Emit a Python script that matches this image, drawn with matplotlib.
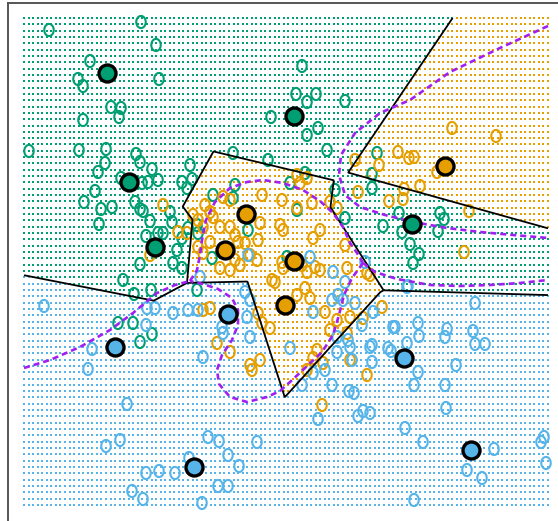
import numpy as np
import matplotlib
matplotlib.use("Agg")
import matplotlib.pyplot as plt
from matplotlib.path import Path

# ---------------- data (feature units) ----------------
green_x = [49,141,156,90,78,83,159,111,121,119,83,
           29,79,106,136,140,105,98,152,190,121,
           142,148,158,182,192,187,95,84,101,112,
           135,140,143,150,99,146,140,123,134,151,
           118,133,152,140,
           302,296,307,316,345,271,318,307,233,327,268,
           377,372,372,335,399,383,402,440,444,438,410,419,413,345,
           170,172,163,182,177,173,182,197,198,212,297,290,305,235,213,233,188,158,197,287,248]
green_y = [30,22,45,61,79,86,79,107,108,117,120,
           151,150,149,154,162,163,172,169,165,178,
           183,182,180,182,179,188,191,202,209,207,
           202,209,211,221,224,236,264,280,294,290,
           323,323,334,342,
           66,94,102,94,101,117,128,135,153,150,160,
           153,174,188,190,213,226,232,213,219,231,244,254,263,218,
           212,222,233,238,250,263,268,225,233,258,210,183,173,185,195,198,228,233,290,257,230]

orange_x = [452,496,398,409,414,355,379,437,420,404,358,403,389,337,469,345,464,367,382,
            297,300,307,262,282,297,163,205,210,193,198,213,223,230,230,260,280,283,320,220,203,178,187,
            312,330,313,235,210,198,203,220,230,238,245,235,240,250,258,257,282,283,302,307,315,320,
            272,275,305,297,310,325,347,370,363,350,347,337,330,317,313,323,307,262,270,258,
            217,230,250,260,203,210,367,350,322,252,150]
orange_y = [128,136,152,158,157,160,165,172,186,189,192,199,201,208,211,245,252,273,307,
            175,183,178,195,200,208,205,205,212,215,220,217,197,200,227,223,225,230,230,227,227,232,233,
            203,202,238,235,242,247,253,268,270,242,243,260,265,255,240,260,262,268,265,272,267,270,
            280,282,288,295,298,312,268,275,318,317,333,320,330,350,358,363,370,323,328,313,
            343,352,365,360,310,308,375,360,405,370,255]

blue_x = [44,92,88,127,147,155,146,106,120,208,219,228,239,189,146,159,175,132,143,202,218,228,
          302,313,325,332,349,354,318,358,363,370,257,
          414,445,446,405,423,494,467,482,544,541,546,414,
          408,475,373,393,418,419,447,445,473,475,485,407,391,372,372,456,418,
          365,333,345,407,
          310,248,200,245,250,173,188,198,223,222,247,250,290,313,332,343,338,355,362,
          337,348,350,352,370,388,395,337,203]
blue_y = [306,349,369,404,308,308,325,446,440,437,441,455,466,458,473,471,473,491,499,503,486,486,
          385,373,370,385,391,393,419,416,411,413,442,
          385,385,408,428,442,449,470,478,437,442,463,500,
          286,303,312,327,323,336,329,337,331,344,344,343,351,345,362,365,372,
          262,272,282,287,
          257,255,277,292,300,313,310,310,333,327,317,337,348,312,300,300,295,303,325,
          337,340,347,360,347,348,327,352,357]

# cluster prototypes (5 per class)
proto_green_x = [107, 294, 129, 155, 412]
proto_green_y = [73, 116, 182, 247, 224]
proto_orange_x = [445, 246, 225, 294, 285]
proto_orange_y = [166, 214, 250, 261, 305]
proto_blue_x = [228, 115, 404, 471, 194]
proto_blue_y = [314, 347, 358, 450, 467]

# Bayes decision boundary (dashed)
bayes_go_right_x = [548,500,450,410,380,355,341,339,345,360,385,413,447,480,513,548]
bayes_go_right_y = [26,48,72,100,113,133,155,175,195,207,215,222,228,232,235,238]
bayes_go_center_x = [190,197,200,202,206,215,230,247,263,283,303,320,333,343,350,357,363]
bayes_go_center_y = [281,270,255,240,220,202,188,182,180,183,190,201,213,227,243,253,263]
bayes_gb_right_x = [363,375,397,430,460,490,520,548]
bayes_gb_right_y = [263,272,279,285,286,285,283,280]
bayes_gb_left_x = [24,50,80,110,133,157,175,190]
bayes_gb_left_y = [368,360,347,330,313,293,285,281]
bayes_ob_x = [363,352,344,339,333,322,305,290,280,267,247,230,219,217,222,232,238,238,232,218,203,190]
bayes_ob_y = [263,278,295,315,335,352,368,382,391,397,402,397,384,370,355,340,325,310,298,289,284,281]

# lattice extent and feature scaling
lattice_x = (24, 548, 116)
lattice_y = (18, 505, 78)
y_weight = 1 / 0.7   # relative scaling of the second feature

GREEN = '#009E73'
ORANGE = '#E69F00'
BLUE = '#56B4E9'
PURPLE = '#A020F0'
colors = [GREEN, ORANGE, BLUE]

# ---------------- figure ----------------
fig = plt.figure(figsize=(5.58, 5.21), dpi=100)
ax = fig.add_axes([8 / 558, 0, 1 - 8 / 558, 1 - 3 / 521])
ax.set_xlim(8, 558)
ax.set_ylim(521, 3)
ax.set_xticks([])
ax.set_yticks([])
for s in ['right', 'bottom']:
    ax.spines[s].set_visible(False)
for s in ['left', 'top']:
    ax.spines[s].set_color('#555555')
    ax.spines[s].set_linewidth(1.4)

pxs = np.array(proto_green_x + proto_orange_x + proto_blue_x, float)
pys = np.array(proto_green_y + proto_orange_y + proto_blue_y, float)
plab = np.array([0] * 5 + [1] * 5 + [2] * 5)


def class_dists(X, Y):
    d = (X[..., None] - pxs) ** 2 + ((Y[..., None] - pys) * y_weight) ** 2
    return np.stack([d[..., plab == c].min(axis=-1) for c in range(3)], axis=-1)


# lattice of dots coloured by nearest prototype
gx = np.linspace(*lattice_x)
gy = np.linspace(*lattice_y)
GX, GY = np.meshgrid(gx, gy)
cls = class_dists(GX, GY).argmin(axis=-1)
for c in range(3):
    m = cls == c
    ax.scatter(GX[m], GY[m], s=1.0, marker='s', c=colors[c], linewidths=0, zorder=1)

# training points drawn as hollow 'O'
t = np.linspace(0, 2 * np.pi, 64)
oval = Path(np.column_stack([0.78 * np.cos(t), np.sin(t)]))
for xs, ys, col in [(green_x, green_y, GREEN), (orange_x, orange_y, ORANGE), (blue_x, blue_y, BLUE)]:
    ax.scatter(xs, ys, marker=oval, s=76, facecolors='none', edgecolors=col,
               linewidths=1.5, zorder=2)

# nearest-prototype decision boundary
fx = np.linspace(lattice_x[0], lattice_x[1], 900)
fy = np.linspace(lattice_y[0], lattice_y[1], 820)
FX, FY = np.meshgrid(fx, fy)
D = np.sqrt(class_dists(FX, FY))
for a, b in [(0, 1), (0, 2), (1, 2)]:
    o = 3 - a - b
    g = D[..., a] - D[..., b]
    mask = D[..., o] < np.minimum(D[..., a], D[..., b])
    ax.contour(FX, FY, np.ma.masked_where(mask, g), levels=[0], colors='black',
               linewidths=1.3, zorder=3)

# Bayes boundary
for bx, by in [(bayes_go_right_x, bayes_go_right_y), (bayes_go_center_x, bayes_go_center_y),
               (bayes_gb_right_x, bayes_gb_right_y), (bayes_gb_left_x, bayes_gb_left_y),
               (bayes_ob_x, bayes_ob_y)]:
    ax.plot(bx, by, color=PURPLE, lw=1.9, dashes=(2.3, 1.5), zorder=4,
            solid_capstyle='butt', dash_capstyle='butt')

# prototypes
for xs, ys, col in [(proto_green_x, proto_green_y, GREEN), (proto_orange_x, proto_orange_y, ORANGE),
                    (proto_blue_x, proto_blue_y, BLUE)]:
    ax.scatter(xs, ys, s=150, c=col, edgecolors='black', linewidths=2.4, zorder=5)

fig.savefig('out.png', dpi=100)
